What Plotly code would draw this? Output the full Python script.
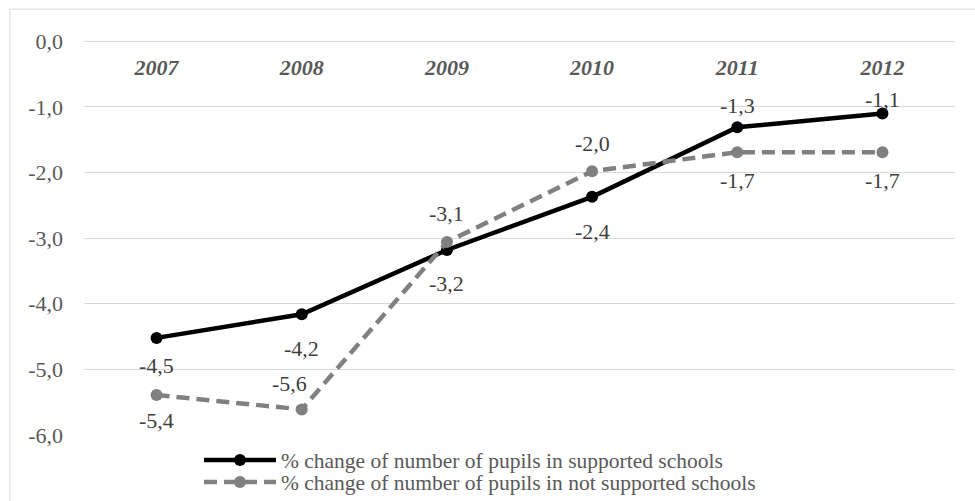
import plotly.graph_objects as go

years = ["2007", "2008", "2009", "2010", "2011", "2012"]
supported = [-4.52, -4.16, -3.18, -2.37, -1.31, -1.10]
not_supported = [-5.39, -5.61, -3.06, -1.98, -1.69, -1.69]
name_supported = "% change of number of pupils in supported schools"
name_not_supported = "% change of number of pupils in not supported schools"
y_ticks = [0, -1, -2, -3, -4, -5, -6]

# label offsets (style only)
shift_sup = [-28, -34, -34, -35, 22, 14]
shift_not = [-26, 26, 29, 28, -28, -28]
xshift_not = [0, -12, 0, 0, 0, 0]

FONT = "'Liberation Serif', 'Times New Roman', Times, serif"
FS = 22


def fmt(v):
    return f"{v:.1f}".replace(".", ",")


fig = go.Figure()
fig.add_trace(go.Scatter(
    x=years, y=supported, name=name_supported, mode="lines+markers", legend="legend",
    line=dict(color="black", width=4.5), marker=dict(size=12, color="black"),
))
fig.add_trace(go.Scatter(
    x=years, y=not_supported, name=name_not_supported, mode="lines+markers", legend="legend2",
    line=dict(color="#808080", width=4.5, dash="13px,7px"), marker=dict(size=12, color="#808080"),
))

annotations = []
for i, v in enumerate(supported):
    annotations.append(dict(x=i, y=v, xref="x", yref="y", text=fmt(v), showarrow=False,
                            yshift=shift_sup[i],
                            font=dict(family=FONT, size=FS, color="#404040")))
for i, v in enumerate(not_supported):
    annotations.append(dict(x=i, y=v, xref="x", yref="y", text=fmt(v), showarrow=False,
                            yshift=shift_not[i], xshift=xshift_not[i],
                            font=dict(family=FONT, size=FS, color="#404040")))

leg_common = dict(xanchor="left", yanchor="middle", bgcolor="rgba(0,0,0,0)",
                  font=dict(family=FONT, size=21.5, color="#595959"), itemwidth=72)

fig.update_layout(
    width=975, height=501,
    margin=dict(l=84, r=20, t=40, b=66, autoexpand=False),
    paper_bgcolor="white", plot_bgcolor="white",
    font=dict(family=FONT, size=FS, color="#595959"),
    showlegend=True,
    legend=dict(x=0.132, y=-0.0635, **leg_common),
    legend2=dict(x=0.132, y=-0.119, **leg_common),
    annotations=annotations,
    shapes=[dict(type="rect", xref="paper", yref="paper", x0=-0.085, x1=1.1, y0=-0.3, y1=1.078,
                 line=dict(color="#d9d9d9", width=1), fillcolor="rgba(0,0,0,0)", layer="below")],
    xaxis=dict(type="category", categoryarray=years, range=[-0.5, 5.5], side="bottom",
               anchor="free", position=0.9696, ticks="", showgrid=False,
               showline=False, zeroline=False,
               tickfont=dict(family=FONT, size=FS, color="#595959", weight="bold", style="italic")),
    yaxis=dict(range=[-6, 0.02], tickvals=y_ticks, ticktext=[fmt(v) for v in y_ticks],
               showgrid=True, gridcolor="#d9d9d9", gridwidth=1, zeroline=False, showline=False,
               ticklabelstandoff=20, tickfont=dict(family=FONT, size=FS, color="#595959")),
)

fig.write_html("out.html")
